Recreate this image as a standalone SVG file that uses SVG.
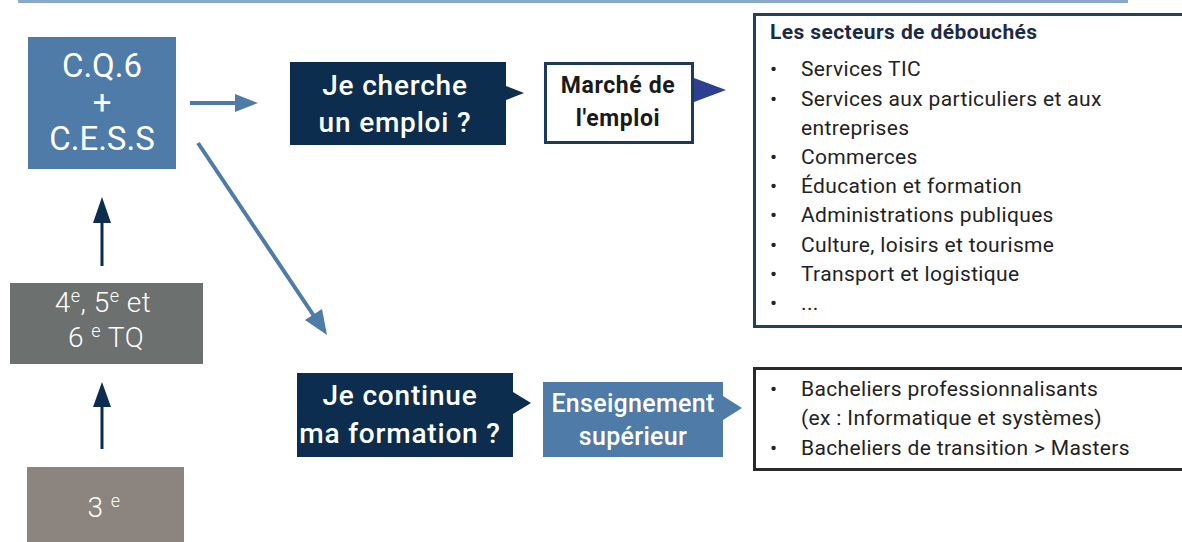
<svg xmlns="http://www.w3.org/2000/svg" width="1182" height="542" viewBox="0 0 1182 542">
<style>
.t{font-family:Roboto,"Liberation Sans",sans-serif}
.w{fill:#ffffff}
.q{font-size:28px;font-weight:500;letter-spacing:0.8px}
.list{font-family:Roboto,"Liberation Sans",sans-serif;font-size:21px;letter-spacing:0.35px;fill:#222222}
.lt{font-family:Roboto,"Liberation Sans",sans-serif;font-size:21px;letter-spacing:0.4px;fill:#1c2b45;font-weight:bold}
.din{font-family:Roboto,"Liberation Sans",sans-serif;font-weight:300;font-size:28px;letter-spacing:0.5px;fill:#ffffff}
.blue{fill:#4f7ba8}
.navy{fill:#0c2d4d}
</style>
<rect x="18" y="0" width="1110" height="3" fill="#8aa8c8"/>

<g id="connectors">
<line x1="190" y1="103" x2="238" y2="103" stroke="#4f7ba8" stroke-width="4"/>
<polygon points="235,94 258,103 235,112" fill="#4f7ba8"/>
<line x1="198" y1="143" x2="314" y2="316" stroke="#4f7ba8" stroke-width="4"/>
<polygon points="305,320 327,335 322,309" fill="#4f7ba8"/>
<line x1="102" y1="266" x2="102" y2="220" stroke="#0c2d4d" stroke-width="3"/>
<polygon points="102,197 111,223 93,223" fill="#0c2d4d"/>
<line x1="102" y1="449" x2="102" y2="404" stroke="#0c2d4d" stroke-width="3"/>
<polygon points="102,382 111,407 93,407" fill="#0c2d4d"/>
</g>

<g id="cq6">
<rect x="28" y="37" width="148" height="132" class="blue"/>
<text class="t w" x="102" y="77" font-size="33" text-anchor="middle">C.Q.6</text>
<text class="t w" x="102" y="114" font-size="33" text-anchor="middle">+</text>
<text class="t w" x="102" y="150" font-size="33" text-anchor="middle">C.E.S.S</text>
</g>

<g id="tq">
<rect x="10" y="283" width="193" height="81" fill="#6c706f"/>
<text class="din" x="103" y="312" text-anchor="middle">4<tspan font-size="18" dy="-10">e</tspan><tspan dy="10">, 5</tspan><tspan font-size="18" dy="-10">e</tspan><tspan dy="10"> et</tspan></text>
<text class="din" x="106" y="347" text-anchor="middle">6 <tspan font-size="18" dy="-10">e</tspan><tspan dy="10"> TQ</tspan></text>
</g>

<g id="troisieme">
<rect x="27" y="467" width="157" height="80" fill="#8c847e"/>
<text class="din" x="104" y="517" text-anchor="middle">3 <tspan font-size="18" dy="-10">e</tspan></text>
</g>

<g id="emploi">
<path d="M290,62 H506 V86 L524,93 L506,100 V145 H290 Z" class="navy"/>
<text class="t w q" x="395" y="95" text-anchor="middle">Je cherche</text>
<text class="t w q" x="395" y="132" text-anchor="middle">un emploi ?</text>
</g>

<g id="marche">
<rect x="545.5" y="63.5" width="147" height="79" fill="#ffffff" stroke="#1e3a5a" stroke-width="3"/>
<text class="t" x="618" y="93" font-size="23" font-weight="bold" letter-spacing="0.6" fill="#1a1a1a" text-anchor="middle">Marché de</text>
<text class="t" x="618" y="126" font-size="23" font-weight="bold" letter-spacing="0.6" fill="#1a1a1a" text-anchor="middle">l'emploi</text>
<polygon points="694,78 726,90 694,102" fill="#2e3f8f"/>
</g>

<g id="secteurs">
<rect x="754.5" y="14.5" width="450" height="312" fill="#ffffff" stroke="#23405f" stroke-width="3"/>
<text class="lt" x="770" y="39">Les secteurs de débouchés</text>
<g class="list">
<text x="770" y="76">•</text><text x="801" y="76">Services TIC</text>
<text x="770" y="106">•</text><text x="801" y="106">Services aux particuliers et aux</text>
<text x="801" y="135">entreprises</text>
<text x="770" y="164">•</text><text x="801" y="164">Commerces</text>
<text x="770" y="193">•</text><text x="801" y="193">Éducation et formation</text>
<text x="770" y="222">•</text><text x="801" y="222">Administrations publiques</text>
<text x="770" y="252">•</text><text x="801" y="252">Culture, loisirs et tourisme</text>
<text x="770" y="281">•</text><text x="801" y="281">Transport et logistique</text>
<text x="770" y="310">•</text><text x="801" y="310">...</text>
</g>
</g>

<g id="formation">
<path d="M297,373 H513 V392 L531,403 L513,414 V457 H297 Z" class="navy"/>
<text class="t w q" x="400" y="405" text-anchor="middle">Je continue</text>
<text class="t w q" x="400" y="443" text-anchor="middle">ma formation ?</text>
</g>

<g id="superieur">
<path d="M543,382 H723 V396 L742,408 L723,420 V457 H543 Z" class="blue"/>
<text class="t w" x="633" y="412" font-size="25" font-weight="500" letter-spacing="0.3" text-anchor="middle">Enseignement</text>
<text class="t w" x="633" y="445" font-size="25" font-weight="500" letter-spacing="0.3" text-anchor="middle">supérieur</text>
</g>

<g id="bacheliers">
<rect x="754.5" y="368.5" width="450" height="101" fill="#ffffff" stroke="#2a2a2a" stroke-width="3"/>
<g class="list">
<text x="770" y="396">•</text><text x="801" y="396">Bacheliers professionnalisants</text>
<text x="801" y="425">(ex : Informatique et systèmes)</text>
<text x="770" y="455">•</text><text x="801" y="455">Bacheliers de transition &gt; Masters</text>
</g>
</g>
</svg>
